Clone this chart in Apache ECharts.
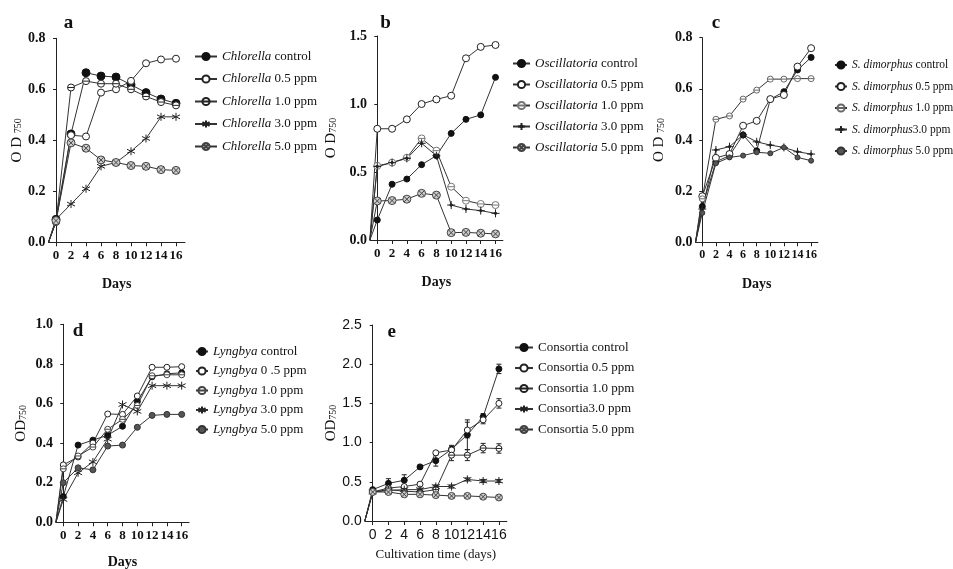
<!DOCTYPE html>
<html>
<head>
<meta charset="utf-8">
<script src="https://cdn.jsdelivr.net/npm/echarts@6/dist/echarts.min.js"></script>
<style>
html, body { margin: 0; padding: 0; background: #fff; }
#chart { width: 953px; height: 569px; }
</style>
</head>
<body>
<div id="chart"></div>
<script>
var days = [0, 2, 4, 6, 8, 10, 12, 14, 16];
var origin = [-1, 0]; // every curve starts in the axis corner

// a - Chlorella
var chlorellaControl = [0.09, 0.425, 0.665, 0.652, 0.648, 0.618, 0.587, 0.562, 0.545];
var chlorella05 = [0.08, 0.42, 0.415, 0.587, 0.60, 0.633, 0.702, 0.717, 0.72];
var chlorella10 = [0.08, 0.607, 0.632, 0.622, 0.622, 0.60, 0.572, 0.55, 0.537];
var chlorella30 = [0.09, 0.15, 0.21, 0.298, 0.313, 0.357, 0.407, 0.492, 0.492];
var chlorella50 = [0.085, 0.39, 0.369, 0.323, 0.313, 0.301, 0.298, 0.285, 0.282];

// b - Oscillatoria
var oscControl = [0.147, 0.41, 0.448, 0.554, 0.62, 0.784, 0.887, 0.92, 1.196];
var osc05 = [0.818, 0.818, 0.887, 1.0, 1.034, 1.061, 1.336, 1.42, 1.434];
var osc10 = [0.545, 0.569, 0.605, 0.747, 0.657, 0.392, 0.289, 0.265, 0.257];
var osc30 = [0.54, 0.569, 0.60, 0.711, 0.62, 0.257, 0.228, 0.216, 0.196];
var osc50 = [0.287, 0.29, 0.30, 0.343, 0.33, 0.054, 0.056, 0.05, 0.045];

// c - S. dimorphus
var sdControl = [0.14, 0.315, 0.339, 0.42, 0.358, 0.559, 0.589, 0.674, 0.723];
var sd05 = [0.18, 0.33, 0.345, 0.456, 0.475, 0.56, 0.576, 0.687, 0.759];
var sd10 = [0.17, 0.481, 0.494, 0.56, 0.595, 0.638, 0.638, 0.64, 0.64];
var sd30 = [0.13, 0.361, 0.374, 0.42, 0.393, 0.38, 0.371, 0.354, 0.345];
var sd50 = [0.115, 0.309, 0.332, 0.339, 0.352, 0.348, 0.371, 0.332, 0.319];

// d - Lyngbya
var lynControl = [0.13, 0.39, 0.415, 0.44, 0.485, 0.61, 0.735, 0.75, 0.755];
var lyn05 = [0.29, 0.33, 0.40, 0.547, 0.545, 0.638, 0.783, 0.783, 0.786];
var lyn10 = [0.27, 0.335, 0.38, 0.47, 0.52, 0.59, 0.74, 0.745, 0.745];
var lyn30 = [0.115, 0.25, 0.305, 0.42, 0.595, 0.56, 0.69, 0.69, 0.69];
var lyn50 = [0.20, 0.275, 0.265, 0.385, 0.39, 0.48, 0.54, 0.545, 0.545];

// e - Consortia, with error bars
var conControl = [0.40, 0.48, 0.52, 0.69, 0.77, 0.915, 1.10, 1.33, 1.94];
var con05 = [0.37, 0.42, 0.44, 0.47, 0.87, 0.906, 1.16, 1.29, 1.50];
var con10 = [0.37, 0.40, 0.38, 0.37, 0.40, 0.84, 0.84, 0.93, 0.925];
var con30 = [0.37, 0.39, 0.40, 0.40, 0.44, 0.44, 0.53, 0.51, 0.51];
var con50 = [0.37, 0.37, 0.34, 0.34, 0.33, 0.32, 0.32, 0.31, 0.30];
var conControlErr = [0.02, 0.06, 0.07, 0.02, 0.07, 0.05, 0.19, 0.04, 0.06];
var con05Err = [0.02, 0.02, 0.02, 0.02, 0.02, 0.05, 0.10, 0.05, 0.06];
var con10Err = [0.02, 0.03, 0.03, 0.02, 0.05, 0.07, 0.07, 0.06, 0.06];
var con30Err = [0.02, 0.02, 0.02, 0.02, 0.02, 0.02, 0.02, 0.02, 0.02];
var con50Err = [0.02, 0.02, 0.02, 0.02, 0.02, 0.02, 0.02, 0.02, 0.02];

var SERIF = 'Liberation Serif';
var SANS = 'Liberation Sans';
var THETA = 'path://M0,10A10,10,0,1,1,20,10A10,10,0,1,1,0,10ZM0,10L20,10';
var CROSS = 'path://M0,10A10,10,0,1,1,20,10A10,10,0,1,1,0,10ZM3,3L17,17M17,3L3,17';
var STAR = 'path://M10,0L10,20M1.3,5L18.7,15M1.3,15L18.7,5';
var PLUS = 'path://M10,0L10,20M0,10L20,10M7,10A3,3,0,1,1,13,10A3,3,0,1,1,7,10Z';

function sym(kind, size, border) {
    var b = border || '#222';
    if (kind == 'filled') return { symbol: 'circle', symbolSize: size, itemStyle: { color: '#111', borderColor: '#111', borderWidth: 1 } };
    if (kind == 'grey') return { symbol: 'circle', symbolSize: size, itemStyle: { color: '#555', borderColor: '#333', borderWidth: 1 } };
    if (kind == 'open') return { symbol: 'circle', symbolSize: size, itemStyle: { color: '#fff', borderColor: b, borderWidth: 1 } };
    if (kind == 'theta') return { symbol: THETA, symbolSize: size, itemStyle: { color: '#fff', borderColor: b, borderWidth: 1 } };
    if (kind == 'cross') return { symbol: CROSS, symbolSize: size, itemStyle: { color: '#ccc', borderColor: b, borderWidth: 1 } };
    if (kind == 'star') return { symbol: STAR, symbolSize: size, itemStyle: { color: '#222', borderColor: b, borderWidth: 1 } };
    return { symbol: PLUS, symbolSize: size, itemStyle: { color: '#222', borderColor: b, borderWidth: 1 } };
}

var panels = [
    { label: 'a', genus: 'Chlorella', grid: { left: 48.5, top: 38.3, width: 136.5, height: 204 }, xMax: 17.2,
      yMax: 0.8, yStep: 0.2, yName: '{o|O D }{s|750}', yGap: 22, xName: 'Days', xGap: 35, tick: 13,
      legend: { left: 189, top: 45, gap: 9.5, w: 22, size: 13 }, title: [68.5, 33],
      series: [
        ['Chlorella control', chlorellaControl, sym('filled', 8)],
        ['Chlorella 0.5 ppm', chlorella05, sym('open', 7)],
        ['Chlorella 1.0 ppm', chlorella10, sym('theta', 7)],
        ['Chlorella 3.0 ppm', chlorella30, sym('star', 8)],
        ['Chlorella 5.0 ppm', chlorella50, sym('cross', 8, '#444')]
      ] },
    { label: 'b', genus: 'Oscillatoria', grid: { left: 369.9, top: 36, width: 133, height: 204 }, xMax: 17,
      yMax: 1.5, yStep: 0.5, yName: '{o|O D}{s|750}', yGap: 31, xName: 'Days', xGap: 35, tick: 13,
      legend: { left: 507, top: 52, gap: 8, w: 17, size: 13 }, title: [385.5, 33],
      series: [
        ['Oscillatoria control', oscControl, sym('filled', 6)],
        ['Oscillatoria 0.5 ppm', osc05, sym('open', 7)],
        ['Oscillatoria 1.0 ppm', osc10, sym('theta', 7, '#777')],
        ['Oscillatoria 3.0 ppm', osc30, sym('plus', 8)],
        ['Oscillatoria 5.0 ppm', osc50, sym('cross', 8, '#444')]
      ] },
    { label: 'c', genus: 'S. dimorphus', grid: { left: 695.5, top: 37.7, width: 122.4, height: 204.6 }, xMax: 17,
      yMax: 0.8, yStep: 0.2, yName: '{o|O D }{s|750}', yGap: 29, xName: 'Days', xGap: 35, tick: 12,
      legend: { left: 829, top: 54, gap: 9.5, w: 12, size: 11.5 }, title: [716, 33],
      series: [
        ['S. dimorphus control', sdControl, sym('filled', 6)],
        ['S. dimorphus 0.5 ppm', sd05, sym('open', 7)],
        ['S. dimorphus 1.0 ppm', sd10, sym('theta', 6, '#666')],
        ['S. dimorphus3.0 ppm', sd30, sym('plus', 8)],
        ['S. dimorphus 5.0 ppm', sd50, sym('grey', 5)]
      ] },
    { label: 'd', genus: 'Lyngbya', grid: { left: 55.9, top: 324.3, width: 133.2, height: 198 }, xMax: 17,
      yMax: 1.0, yStep: 0.2, yName: '{o|OD}{s|750}', yGap: 27, xName: 'Days', xGap: 33, tick: 13,
      legend: { left: 190, top: 340, gap: 6.5, w: 12, size: 13 }, title: [78, 341],
      series: [
        ['Lyngbya control', lynControl, sym('filled', 6)],
        ['Lyngbya 0 .5 ppm', lyn05, sym('open', 6)],
        ['Lyngbya 1.0 ppm', lyn10, sym('theta', 6, '#444')],
        ['Lyngbya 3.0 ppm', lyn30, sym('star', 8)],
        ['Lyngbya 5.0 ppm', lyn50, sym('grey', 6)]
      ] },
    { label: 'e', genus: null, grid: { left: 364.8, top: 325, width: 142, height: 196 }, xMax: 17,
      yMax: 2.5, yStep: 0.5, yName: '{o|OD}{s|750}', yGap: 23, xName: 'Cultivation time (days)', xGap: 27, tick: 14,
      legend: { left: 509, top: 336, gap: 7.5, w: 18, size: 13 }, title: [391.7, 342], sans: true,
      series: [
        ['Consortia control', conControl, sym('filled', 6), conControlErr],
        ['Consortia 0.5 ppm', con05, sym('open', 6), con05Err],
        ['Consortia 1.0 ppm', con10, sym('theta', 6), con10Err],
        ['Consortia3.0 ppm', con30, sym('star', 8), con30Err],
        ['Consortia 5.0 ppm', con50, sym('cross', 7, '#444'), con50Err]
      ] }
];

var option = {
    animation: false,
    backgroundColor: '#fff',
    textStyle: { fontFamily: SERIF },
    grid: [], xAxis: [], yAxis: [], legend: [], series: [], graphic: []
};

panels.forEach(function (p, i) {
    var tickFont = p.sans ? { fontFamily: SANS, fontWeight: 'normal', fontSize: p.tick }
                          : { fontFamily: SERIF, fontWeight: 'bold', fontSize: p.tick };
    var g = p.grid;
    option.grid.push({ left: g.left, top: g.top, width: g.width, height: g.height, outerBoundsMode: 'none', containLabel: false });

    option.xAxis.push({
        gridIndex: i, type: 'value', min: -1, max: p.xMax,
        axisLine: { show: true, onZero: false, lineStyle: { color: '#222', width: 1 } },
        axisTick: { show: true, customValues: days, length: 4, lineStyle: { color: '#222' } },
        axisLabel: Object.assign({ customValues: days, margin: 7, color: '#111',
            showMinLabel: true, showMaxLabel: true, hideOverlap: false }, tickFont),
        splitLine: { show: false },
        name: p.xName, nameLocation: 'middle', nameGap: p.xGap,
        nameTextStyle: p.sans ? { fontFamily: SERIF, fontSize: 13, color: '#111' }
                              : { fontFamily: SERIF, fontWeight: 'bold', fontSize: 14, color: '#111' }
    });

    option.yAxis.push({
        gridIndex: i, type: 'value', min: 0, max: p.yMax, interval: p.yStep,
        axisLine: { show: true, lineStyle: { color: '#222', width: 1 } },
        axisTick: { show: true, length: 3, lineStyle: { color: '#222' } },
        axisLabel: Object.assign({ margin: 3, color: '#111',
            formatter: function (v) { return v.toFixed(1); } }, tickFont, { fontSize: 14 }),
        splitLine: { show: false },
        name: p.yName, nameLocation: 'middle', nameRotate: 90, nameGap: p.yGap,
        nameTextStyle: { rich: {
            o: { fontFamily: SERIF, fontSize: 15, color: '#111' },
            s: { fontFamily: SERIF, fontSize: 10, color: '#111', padding: [0, 0, -4, 0] }
        } }
    });

    var names = [];
    p.series.forEach(function (s) {
        names.push(s[0]);
        var data = [{ value: origin, symbol: 'none' }];
        days.forEach(function (d, k) { data.push([d, s[1][k]]); });
        option.series.push(Object.assign({
            name: s[0], type: 'line', xAxisIndex: i, yAxisIndex: i, data: data,
            showSymbol: true, lineStyle: { color: '#333', width: 1 }, z: 3
        }, s[2]));
        if (s[3]) {
            var err = s[3];
            option.series.push({
                type: 'custom', xAxisIndex: i, yAxisIndex: i, z: 2, silent: true,
                data: days.map(function (d, k) { return [d, s[1][k] - err[k], s[1][k] + err[k]]; }),
                encode: { x: 0, y: [1, 2] },
                renderItem: function (params, api) {
                    var top = api.coord([api.value(0), api.value(2)]);
                    var bot = api.coord([api.value(0), api.value(1)]);
                    var st = { stroke: '#222', lineWidth: 1 };
                    return { type: 'group', children: [
                        { type: 'line', shape: { x1: top[0], y1: top[1], x2: bot[0], y2: bot[1] }, style: st },
                        { type: 'line', shape: { x1: top[0] - 2.5, y1: top[1], x2: top[0] + 2.5, y2: top[1] }, style: st },
                        { type: 'line', shape: { x1: bot[0] - 2.5, y1: bot[1], x2: bot[0] + 2.5, y2: bot[1] }, style: st }
                    ] };
                }
            });
        }
    });

    option.legend.push({
        data: names, orient: 'vertical', left: p.legend.left, top: p.legend.top,
        itemGap: p.legend.gap, itemWidth: p.legend.w, itemHeight: 9,
        selectedMode: false,
        formatter: function (name) {
            return p.genus ? name.replace(p.genus, '{i|' + p.genus + '}') : name;
        },
        textStyle: { fontFamily: SERIF, fontSize: p.legend.size, color: '#111',
            rich: { i: { fontFamily: SERIF, fontStyle: 'italic', fontSize: p.legend.size, color: '#111' } } }
    });

    option.graphic.push({
        type: 'text', x: p.title[0], y: p.title[1],
        style: { text: p.label, font: 'bold 19px "Liberation Serif"', fill: '#111',
                 textAlign: 'center', textVerticalAlign: 'bottom', align: 'center', verticalAlign: 'bottom' }
    });
});

var chart = echarts.init(document.getElementById('chart'));
chart.setOption(option);
</script>
</body>
</html>
